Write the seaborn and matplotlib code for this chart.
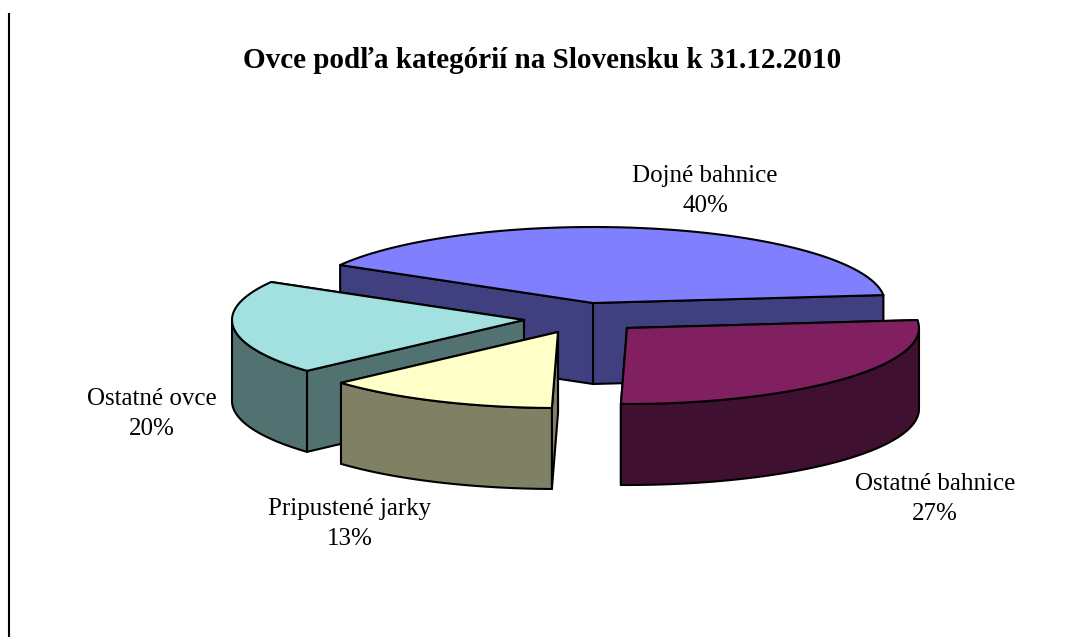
# -*- coding: utf-8 -*-
import numpy as np
import matplotlib.pyplot as plt
from matplotlib.patches import Polygon
import seaborn as sns

# data
categories = ['Ostatné ovce', 'Pripustené jarky', 'Ostatné bahnice', 'Dojné bahnice']
shares = [20, 13, 27, 40]
chart_title = 'Ovce podľa kategórií na Slovensku k 31.12.2010'

# look
top_colors = ['#A3E1E1', '#FFFFC8', '#802060', '#8080FF']
apexes = [(524, 320), (558, 332), (627, 328), (593, 303)]
label_centers = [(152, 414), (350, 524), (935, 499), (705, 191)]
draw_order = [3, 0, 2, 1]
start_angle = 150
rx, ry, depth = 292, 76, 81

sns.set_theme(style='white')
plt.rcParams['font.family'] = ['Liberation Serif', 'DejaVu Serif']

fig = plt.figure(figsize=(10.89, 6.37), dpi=100)
ax = fig.add_axes([9 / 1089, 0, 1 - 9 / 1089, 1 - 14 / 637])
ax.set_xlim(9, 1089)
ax.set_ylim(637, 14)
ax.set_xticks([])
ax.set_yticks([])
sns.despine(ax=ax, right=True, bottom=True)
for side in ['left', 'top']:
    ax.spines[side].set_color('black')
    ax.spines[side].set_linewidth(1.5)

palette = sns.color_palette(top_colors)
edges = start_angle + np.cumsum([0] + shares) * 3.6


def arc(apex, a0, a1, drop=0):
    t = np.radians(np.linspace(a0, a1, 80))
    return np.column_stack([apex[0] + rx * np.cos(t), apex[1] + drop - ry * np.sin(t)])


def face(points, color, z):
    ax.add_patch(Polygon(points, closed=True, facecolor=color, edgecolor='black',
                         linewidth=1.5, joinstyle='round', zorder=z))


for z, i in enumerate(draw_order):
    a0, a1 = edges[i], edges[i + 1]
    apex = np.array(apexes[i], dtype=float)
    top = palette[i]
    dark = tuple(c * 0.5 for c in top)
    base = 10 * (z + 1)

    # cut faces first, the wall and the top cover what should be hidden
    for a in (a0, a1):
        rim = arc(apex, a, a, 0)[0]
        face([apex, rim, rim + [0, depth], apex + [0, depth]], dark, base)

    # outer wall, only the part on the front half
    w0, w1 = max(a0, 180), min(a1, 360)
    if w1 > w0:
        face(np.vstack([arc(apex, w0, w1), arc(apex, w1, w0, depth)]), dark, base + 1)

    face(np.vstack([[apex], arc(apex, a0, a1)]), top, base + 2)

ax.text(542, 60, chart_title, ha='center', va='center', fontsize=21, fontweight='bold', color='black')

for name, share, pos in zip(categories, shares, label_centers):
    ax.text(pos[0], pos[1], f'{name}\n{share}%', ha='center', va='center',
            fontsize=18, linespacing=1.45, color='black', zorder=100)

fig.savefig('out.png', dpi=100, facecolor='white')
